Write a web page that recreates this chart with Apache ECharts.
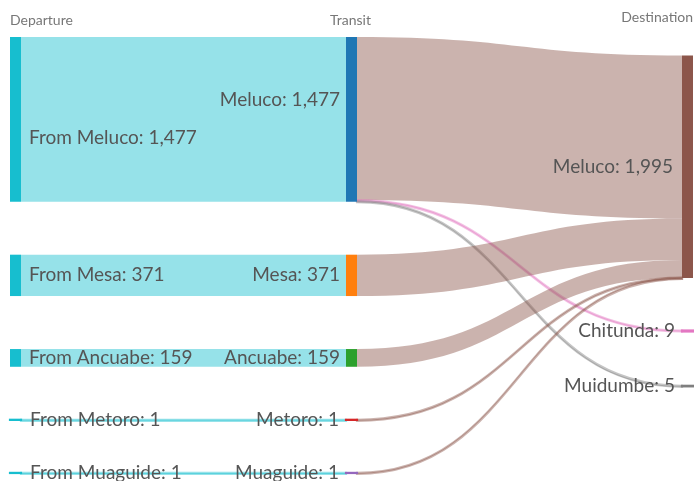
<!DOCTYPE html>
<html>
<head>
<meta charset="utf-8">
<script src="https://cdn.jsdelivr.net/npm/echarts@6/dist/echarts.min.js"></script>
<style>
  html, body { margin: 0; padding: 0; background: #fff; }
  #chart { width: 694px; height: 481px; }
</style>
</head>
<body>
<div id="chart"></div>
<script>
// departure -> transit (one flow each, same place)
const departures = ["From Meluco", "From Mesa", "From Ancuabe", "From Metoro", "From Muaguide"];
const transits = ["Meluco", "Mesa", "Ancuabe", "Metoro", "Muaguide"];
const departureValues = [1477, 371, 159, 1, 1];
const destinations = ["Meluco", "Chitunda", "Muidumbe"];
// transit -> destination flows: [transit, destination, value]
const transitFlows = [
  ["Meluco", "Meluco", 1463],
  ["Meluco", "Chitunda", 9],
  ["Meluco", "Muidumbe", 5],
  ["Mesa", "Meluco", 371],
  ["Ancuabe", "Meluco", 159],
  ["Metoro", "Meluco", 1],
  ["Muaguide", "Meluco", 1]
];
const destinationValues = [1995, 9, 5];
const columnTitles = ["Departure", "Transit", "Destination"];

// colours
const departureColor = "#17becf";
const transitColors = ["#1f77b4", "#ff7f0e", "#2ca02c", "#d62728", "#9467bd"];
const destinationColors = ["#8c564b", "#e377c2", "#7f7f7f"];

// layout box of the sankey
const TOP = 37, BOTTOM = 8, LEFT = 10, RIGHT = 1;
const BOX_H = 481 - TOP - BOTTOM;
// destination nodes are placed by hand (pixel top of each node)
const destTop = [55.5, 330.5, 385.8];
// tiny flows get a minimum visible thickness
const SMALL = 20;
const MIN_W = 2.2;

const fmt = (v) => v.toLocaleString("en-US");
const thin = (v, color) => v < SMALL ? { borderWidth: MIN_W, borderColor: color } : {};

const nodes = [];
departures.forEach((d, i) => {
  nodes.push({
    name: "D|" + d,
    depth: 0,
    itemStyle: Object.assign({ color: departureColor }, thin(departureValues[i], departureColor)),
    label: { position: "right", distance: 8, offset: i === 0 ? [0, 19] : [0, 0] }
  });
});
transits.forEach((t, i) => {
  nodes.push({
    name: "T|" + t,
    depth: 1,
    itemStyle: Object.assign({ color: transitColors[i] }, thin(departureValues[i], transitColors[i])),
    label: { position: "left", offset: i === 0 ? [0, -19] : [0, 0] }
  });
});
destinations.forEach((d, i) => {
  nodes.push({
    name: "X|" + d,
    depth: 2,
    localY: (destTop[i] - TOP) / BOX_H,
    itemStyle: Object.assign({ color: destinationColors[i] }, thin(destinationValues[i], destinationColors[i])),
    label: { position: "left", distance: i === 0 ? 9 : 6 }
  });
});

const links = [];
departures.forEach((d, i) => {
  links.push({
    source: "D|" + d, target: "T|" + transits[i], value: departureValues[i],
    lineStyle: thin(departureValues[i], departureColor)
  });
});
transitFlows.forEach(([t, x, v]) => {
  links.push({
    source: "T|" + t, target: "X|" + x, value: v,
    lineStyle: thin(v, destinationColors[destinations.indexOf(x)])
  });
});

const chart = echarts.init(document.getElementById("chart"));
chart.setOption({
  animation: false,
  graphic: [
    { type: "text", left: 10, top: 13, style: { text: columnTitles[0], font: "14px Lato", fill: "#777" } },
    { type: "text", left: 330, top: 13, style: { text: columnTitles[1], font: "14px Lato", fill: "#777" } },
    { type: "text", right: 1, top: 10, style: { text: columnTitles[2], font: "14px Lato", fill: "#777" } }
  ],
  series: [{
    type: "sankey",
    top: TOP,
    bottom: BOTTOM,
    left: LEFT,
    right: RIGHT,
    nodeWidth: 11,
    nodeGap: 53,
    layoutIterations: 0,
    draggable: false,
    emphasis: { disabled: true },
    data: nodes,
    links: links,
    label: {
      fontFamily: "Lato",
      fontSize: 19,
      color: "#555",
      distance: 6,
      formatter: (p) => p.name.split("|")[1] + ": " + fmt(p.value)
    },
    lineStyle: { opacity: 0.45, curveness: 0.5 },
    levels: [
      { depth: 0, lineStyle: { color: "source" } },
      { depth: 1, lineStyle: { color: "target" } }
    ]
  }]
});
</script>
</body>
</html>
